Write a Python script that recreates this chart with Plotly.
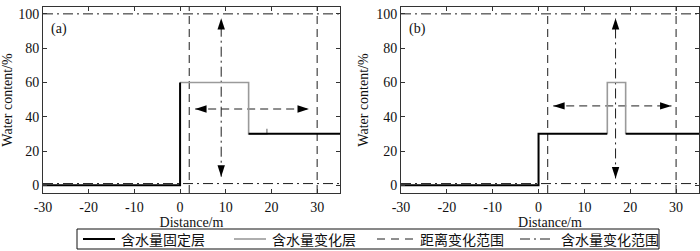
import plotly.graph_objects as go

# ---------------- data ----------------
x_range = [-30, 35]
y_range = [-4.5, 104]
x_ticks = [-30, -20, -10, 0, 10, 20, 30]
x_tick_labels = ["-30", "-20", "-10", "0", "10", "20", "30"]
y_ticks = [0, 20, 40, 60, 80, 100]
y_tick_labels = ["0", "20", "40", "60", "80", "100"]

# panel (a)
a_fixed_x = [-30, 0, 0, None, 15, 35]
a_fixed_y = [0, 0, 60, None, 30, 30]
a_var_x = [0, 15, 15, 19, 19]
a_var_y = [60, 60, 30, 30, 33]
# panel (b)
b_fixed_x = [-30, 0, 0, 15, None, 19, 35]
b_fixed_y = [0, 0, 30, 30, None, 30, 30]
b_var_x = [15, 15, 19, 19]
b_var_y = [30, 60, 60, 30]

dist_range_x = [2, 30]          # dashed vertical lines
wc_range_y = [1, 100]           # dash-dot horizontal lines

a_varrow_x, a_varrow_y = [9, 9], [5, 97.5]
a_harrow_x, a_harrow_y = [3.3, 28.2], [44.5, 44.5]
b_varrow_x, b_varrow_y = [16.8, 16.8], [4, 97.5]
b_harrow_x, b_harrow_y = [3.2, 29], [46.3, 46.3]

names = ["含水量固定层", "含水量变化层", "距离变化范围", "含水量变化范围"]

# ---------------- style ----------------
BLACK = "#000000"
GRAY = "#9a9a9a"
LINE = "#1e1e1e"
DASH = "8px,5px"
DASHDOT = "10px,4px,2px,4px"
SERIF = "Liberation Serif, Times New Roman, serif"
CJK = "Noto Sans CJK SC"

fig = go.Figure()

def add_panel(k, fx, fy, vx, vy, vax, vay, hax, hay):
    xa = "x" if k == 1 else "x2"
    ya = "y" if k == 1 else "y2"
    dx, dy = [], []
    for i, xv in enumerate(dist_range_x):
        if i:
            dx.append(None); dy.append(None)
        dx += [xv, xv]; dy += [y_range[0], y_range[1]]
    fig.add_trace(go.Scatter(x=dx, y=dy, mode="lines", name=names[2],
                             line=dict(color=LINE, width=1, dash=DASH),
                             showlegend=False, xaxis=xa, yaxis=ya, hoverinfo="skip"))
    hx, hy = [], []
    for i, yv in enumerate(wc_range_y):
        if i:
            hx.append(None); hy.append(None)
        hx += [x_range[0], x_range[1]]; hy += [yv, yv]
    fig.add_trace(go.Scatter(x=hx, y=hy, mode="lines", name=names[3],
                             line=dict(color=LINE, width=1, dash=DASHDOT),
                             showlegend=False, xaxis=xa, yaxis=ya, hoverinfo="skip"))
    fig.add_trace(go.Scatter(x=vax, y=vay, mode="lines+markers",
                             line=dict(color=LINE, width=1, dash=DASHDOT),
                             marker=dict(symbol="arrow", size=12, angle=[180, 0], color=BLACK,
                                         line=dict(width=0)),
                             showlegend=False, xaxis=xa, yaxis=ya, hoverinfo="skip"))
    fig.add_trace(go.Scatter(x=hax, y=hay, mode="lines+markers",
                             line=dict(color=LINE, width=1, dash=DASH),
                             marker=dict(symbol="arrow", size=12, angle=[270, 90], color=BLACK,
                                         line=dict(width=0)),
                             showlegend=False, xaxis=xa, yaxis=ya, hoverinfo="skip"))
    fig.add_trace(go.Scatter(x=vx, y=vy, mode="lines", name=names[1],
                             line=dict(color=GRAY, width=1.6),
                             showlegend=False, xaxis=xa, yaxis=ya, hoverinfo="skip"))
    fig.add_trace(go.Scatter(x=fx, y=fy, mode="lines", name=names[0],
                             line=dict(color=BLACK, width=2),
                             showlegend=False, xaxis=xa, yaxis=ya, hoverinfo="skip"))

add_panel(1, a_fixed_x, a_fixed_y, a_var_x, a_var_y, a_varrow_x, a_varrow_y,
          a_harrow_x, a_harrow_y)
add_panel(2, b_fixed_x, b_fixed_y, b_var_x, b_var_y, b_varrow_x, b_varrow_y,
          b_harrow_x, b_harrow_y)

W, H = 700, 251
def px(v):
    return v / W
def py(v):
    return 1 - v / H

ydom = [py(193), py(7)]
common_x = dict(range=x_range, tickvals=x_ticks, ticktext=x_tick_labels,
                ticks="inside", ticklen=4, tickcolor="#333", ticklabelstandoff=1,
                showline=True, linecolor="#333", linewidth=1, mirror="ticks",
                showgrid=False, zeroline=False, automargin=False,
                tickfont=dict(family=SERIF, size=14, color="#111"),
                title=dict(text="Distance/m", font=dict(family=SERIF, size=14, color="#111"),
                           standoff=1))
common_y = dict(range=y_range, tickvals=y_ticks, ticktext=y_tick_labels,
                ticks="inside", ticklen=4, tickcolor="#333",
                showline=True, linecolor="#333", linewidth=1, mirror="ticks",
                showgrid=False, zeroline=False, domain=ydom, automargin=False,
                tickfont=dict(family=SERIF, size=14, color="#111"),
                title=dict(text="Water content/%", font=dict(family=SERIF, size=14, color="#111"),
                           standoff=4))

# ---- legend drawn as a framed key below the panels ----
legend_styles = [dict(color=BLACK, width=2), dict(color=GRAY, width=1.6),
                 dict(color=LINE, width=1, dash="8px,6px"),
                 dict(color=LINE, width=1, dash=DASHDOT)]
legend_sample_x = [(83, 115), (234, 266), (377, 413), (520, 553)]
legend_text_x = [119, 270, 418, 559]
LEG_Y = 239
shapes = [dict(type="rect", xref="paper", yref="paper", x0=px(77), x1=px(659),
               y0=py(249), y1=py(229), line=dict(color="#111", width=1),
               fillcolor="white", layer="above")]
annotations = [
    dict(text="(a)", xref="x", yref="y", x=-28.6, y=91, showarrow=False,
         xanchor="left", font=dict(family=SERIF, size=14, color="#111")),
    dict(text="(b)", xref="x2", yref="y2", x=-28.6, y=91, showarrow=False,
         xanchor="left", font=dict(family=SERIF, size=14, color="#111")),
]
for nm, st, (s0, s1), tx in zip(names, legend_styles, legend_sample_x, legend_text_x):
    shapes.append(dict(type="line", xref="paper", yref="paper", x0=px(s0), x1=px(s1),
                       y0=py(LEG_Y), y1=py(LEG_Y), line=st, layer="above"))
    annotations.append(dict(text=nm, xref="paper", yref="paper", x=px(tx), y=py(LEG_Y),
                            xanchor="left", yanchor="middle", showarrow=False,
                            font=dict(family=CJK, size=14, color="#111")))

fig.update_layout(
    width=W, height=H,
    margin=dict(l=0, r=0, t=0, b=0),
    paper_bgcolor="white", plot_bgcolor="white",
    showlegend=False,
    xaxis=dict(domain=[px(43), px(340)], anchor="y", **common_x),
    yaxis=dict(anchor="x", **common_y),
    xaxis2=dict(domain=[px(401), px(699)], anchor="y2", **common_x),
    yaxis2=dict(anchor="x2", **common_y),
    shapes=shapes,
    annotations=annotations,
)

fig.write_html("out.html", config={"displayModeBar": False},
               post_script="document.body.style.margin='0';document.body.style.overflow='hidden';")
